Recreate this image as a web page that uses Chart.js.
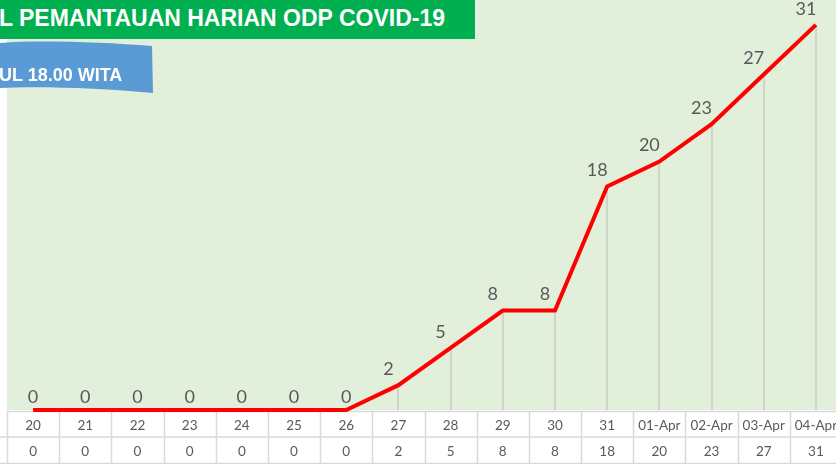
<!DOCTYPE html>
<html>
<head>
<meta charset="utf-8">
<script src="https://cdn.jsdelivr.net/npm/chart.js@4/dist/chart.umd.min.js"></script>
<style>
html,body{margin:0;padding:0;overflow:hidden;background:#fff;width:836px;height:464px;}
#wrap{position:relative;width:836px;height:464px;overflow:hidden;}
canvas{position:absolute;left:0;top:0;}
#title{position:absolute;left:0;top:0;width:475px;height:39px;background:#00b050;color:#fff;
 font-family:"Liberation Sans Narrow","Arial Narrow","Liberation Sans",sans-serif;font-weight:bold;font-size:23px;line-height:37px;white-space:nowrap;overflow:hidden;}
#title span{display:inline-block;margin-left:-1px;}
#sub{position:absolute;left:0;top:40px;width:156px;height:56px;}
#subtxt{position:absolute;left:-1px;top:63px;color:#fff;font-family:"Liberation Sans Narrow","Arial Narrow","Liberation Sans",sans-serif;font-weight:bold;font-size:18px;line-height:24px;white-space:nowrap;}
</style>
</head>
<body>
<div id="wrap">
<canvas id="c" width="850" height="464"></canvas>
<div id="title"><span>L PEMANTAUAN HARIAN ODP COVID-19</span></div>
<svg id="sub" width="156" height="56" viewBox="0 0 156 56">
 <path d="M0,3 C40,0 100,2 152,6 L153,53 C100,48 40,46 0,48 Z" fill="#5b9bd5"/>
</svg>
<div id="subtxt">UL 18.00 WITA</div>
</div>
<script>
const categories = ["20","21","22","23","24","25","26","27","28","29","30","31","01-Apr","02-Apr","03-Apr","04-Apr"];
const odpValues = [0,0,0,0,0,0,0,2,5,8,8,18,20,23,27,31];
const yMin = 0;
const yMax = 33;

const bgPlugin = {
  id:'bg',
  beforeDraw(chart){
    const {ctx, chartArea:a} = chart;
    ctx.save();
    ctx.fillStyle = '#e2efda';
    ctx.fillRect(a.left, 0, a.right - a.left, a.bottom);
    ctx.restore();
  },
  beforeDatasetsDraw(chart){
    const {ctx, chartArea:a, scales} = chart;
    const meta = chart.getDatasetMeta(0);
    ctx.save();
    ctx.strokeStyle = '#cdd5c8';
    ctx.lineWidth = 2;
    meta.data.forEach(p=>{
      ctx.beginPath();
      ctx.moveTo(Math.round(p.x), p.y);
      ctx.lineTo(Math.round(p.x), a.bottom);
      ctx.stroke();
    });
    ctx.restore();
    // table
    const xs = scales.x;
    const colW = (a.right - a.left) / categories.length;
    const r0 = a.bottom + 1, r1 = a.bottom + 27, r2 = a.bottom + 54;
    ctx.save();
    ctx.strokeStyle = '#d9d9d9';
    ctx.lineWidth = 1.5;
    ctx.beginPath();
    ctx.moveTo(a.left, r0 + 0.5); ctx.lineTo(a.right, r0 + 0.5);
    ctx.moveTo(0, r1); ctx.lineTo(a.right, r1);
    ctx.moveTo(0, r2 - 0.5); ctx.lineTo(a.right, r2 - 0.5);
    for (let i = 0; i <= categories.length; i++) {
      const x = Math.round(a.left + i * colW) + 0.5;
      ctx.moveTo(x, r0); ctx.lineTo(x, r2);
    }
    ctx.stroke();
    ctx.fillStyle = '#595959';
    ctx.font = '13.5px Lato, "Open Sans", sans-serif';
    ctx.textAlign = 'center';
    ctx.textBaseline = 'middle';
    categories.forEach((c,i)=>{
      const x = xs.getPixelForValue(i);
      ctx.fillText(c, x, (r0 + r1)/2 + 2);
      ctx.fillText(String(odpValues[i]), x, (r1 + r2)/2 + 1);
    });
    ctx.restore();
  },
  afterDatasetsDraw(chart){
    const {ctx} = chart;
    const meta = chart.getDatasetMeta(0);
    ctx.save();
    ctx.fillStyle = '#595959';
    ctx.font = '18px Lato, "Open Sans", sans-serif';
    ctx.textAlign = 'center';
    ctx.textBaseline = 'middle';
    meta.data.forEach((p,i)=>{
      const v = odpValues[i];
      const dx = v > 0 ? -10 : 0;
      const dy = v > 0 ? -16 : -13;
      ctx.fillText(String(v), p.x + dx, p.y + dy);
    });
    ctx.restore();
  }
};

new Chart(document.getElementById('c'), {
  type:'line',
  data:{
    labels: categories,
    datasets:[{
      data: odpValues,
      borderColor:'#ff0000',
      borderWidth:4,
      pointRadius:0,
      tension:0,
      clip:false,
      borderJoinStyle:'miter'
    }]
  },
  options:{
    responsive:false,
    animation:false,
    layout:{padding:{left:7,right:8,top:0,bottom:54}},
    plugins:{legend:{display:false},tooltip:{enabled:false}},
    scales:{
      x:{display:false, offset:true},
      y:{display:false, min:yMin, max:yMax}
    }
  },
  plugins:[bgPlugin]
});
</script>
</body>
</html>
